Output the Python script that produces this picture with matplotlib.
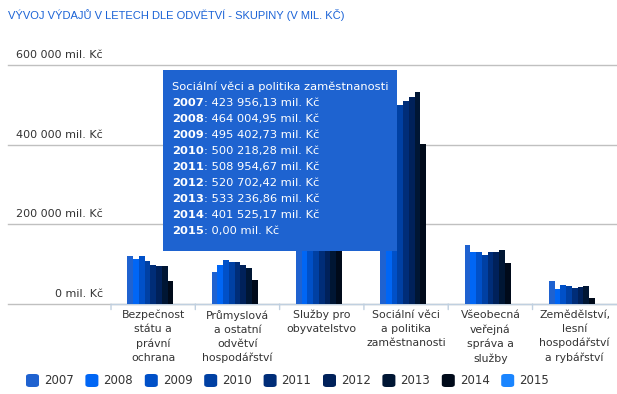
import matplotlib
matplotlib.use("Agg")
import matplotlib.pyplot as plt
from matplotlib.patches import Rectangle, FancyBboxPatch

# data (mil. Kč); Služby is hidden under the tooltip
categories = ["Bezpečnost\nstátu a\nprávní\nochrana",
              "Průmyslová\na ostatní\nodvětví\nhospodářství",
              "Služby pro\nobyvatelstvo",
              "Sociální věci\na politika\nzaměstnanosti",
              "Všeobecná\nveřejná\nspráva a\nslužby",
              "Zemědělství,\nlesní\nhospodářství\na rybářství"]
years = ["2007", "2008", "2009", "2010", "2011", "2012", "2013", "2014", "2015"]

bezpecnost = [120000, 112500, 120000, 107500, 97500, 95000, 95000, 57500, 0]
prumysl = [80000, 97500, 110000, 105000, 105000, 97500, 90000, 60000, 0]
sluzby = [175000, 185000, 195000, 200000, 205000, 210000, 215000, 190000, 0]
socialni = [423956.13, 464004.95, 495402.73, 500218.28, 508954.67,
            520702.42, 533236.86, 401525.17, 0.0]
sprava = [147500, 130000, 130000, 122500, 130000, 130000, 135000, 102500, 0]
zemedelstvi = [57500, 37500, 47500, 45000, 40000, 42500, 45000, 15000, 0]

y_ticks = [0, 200000, 400000, 600000]
y_labels = ["0 mil. Kč", "200 000 mil. Kč", "400 000 mil. Kč", "600 000 mil. Kč"]

colors = ["#1f62d0", "#0066f5", "#0050c8", "#0040a3", "#002d78",
          "#00215a", "#001634", "#000a1a", "#1a85ff"]

groups = [bezpecnost, prumysl, sluzby, socialni, sprava, zemedelstvi]

W, H = 617, 394
fig = plt.figure(figsize=(W / 100, H / 100), dpi=100)
ax = fig.add_axes([8 / W, (H - 304) / H, (W - 8) / W, (304 - 65) / H])
ax.set_xlim(-1.722, 5.502)
ax.set_ylim(0, 600000)
for s in ax.spines.values():
    s.set_visible(False)
ax.set_xticks([])
ax.set_yticks([])

# grid lines + labels
for v, lab in zip(y_ticks, y_labels):
    ax.axhline(v, color="#c0c0c0", lw=1, zorder=0, clip_on=False)
    ax.annotate(lab, xy=(0.156, v), xycoords=ax.get_yaxis_transform(),
                xytext=(0, 10), textcoords="offset pixels",
                ha="right", va="center", fontsize=8, color="#333333")

# x axis line and ticks
ax.hlines(0, -0.5, 5.502, color="#c0d0e0", lw=1, zorder=1, clip_on=False)
for i in range(len(categories)):
    ax.annotate("", xy=(i - 0.5, 0), xytext=(i - 0.5, -14000),
                arrowprops=dict(arrowstyle="-", color="#c0d0e0", lw=1,
                                shrinkA=0, shrinkB=0), annotation_clip=False)

# bars
bw = 0.0682
n = len(years)
for j, yr in enumerate(years):
    vals = [g[j] for g in groups]
    xs = [i + (j - (n - 1) / 2) * bw for i in range(len(categories))]
    ax.bar(xs, vals, width=bw, color=colors[j], lw=0, zorder=2)

# category labels
for i, c in enumerate(categories):
    ax.annotate(c, xy=(i, 0), xytext=(0, -6), textcoords="offset pixels",
                ha="center", va="top", fontsize=7.8, color="#333333",
                linespacing=1.48, annotation_clip=False)

# title
fig.text(8 / W, 1 - 15 / H, "VÝVOJ VÝDAJŮ V LETECH DLE ODVĚTVÍ - SKUPINY (V MIL. KČ)",
         family="Liberation Sans", fontsize=8.0, color="#1b63d6", va="center")

# tooltip
fig.patches.append(Rectangle((163 / W, 1 - 251 / H), (397 - 163) / W, (251 - 70) / H,
                             transform=fig.transFigure, facecolor="#1e63d0",
                             edgecolor="none", zorder=10))
fig.text(172 / W, 1 - 87 / H, "Sociální věci a politika zaměstnanosti",
         fontsize=8.25, color="white", va="center", zorder=11)
for k, yr in enumerate(years):
    yy = 1 - (103 + k * 16) / H
    t = fig.text(172 / W, yy, yr, fontsize=8.25, color="white", weight="bold",
                 va="center", zorder=11)
    val = f"{socialni[k]:,.2f}".replace(",", " ").replace(".", ",")
    fig.add_artist(plt.Annotation(": " + val + " mil. Kč", xy=(1, 0.5), xycoords=t,
                                  va="center", ha="left", fontsize=8.25,
                                  color="white", zorder=11))

# legend
for j, yr in enumerate(years):
    x0 = 26 + j * 59.4
    fig.patches.append(FancyBboxPatch((x0 / W, 1 - 387 / H), 13 / W, 13 / H,
                                      boxstyle="round,pad=0,rounding_size=0.006",
                                      transform=fig.transFigure,
                                      facecolor=colors[j], edgecolor="none"))
    fig.text((x0 + 18) / W, 1 - 380.5 / H, yr, fontsize=8.5, color="#333333",
             va="center")

fig.savefig("out.png", dpi=100)
